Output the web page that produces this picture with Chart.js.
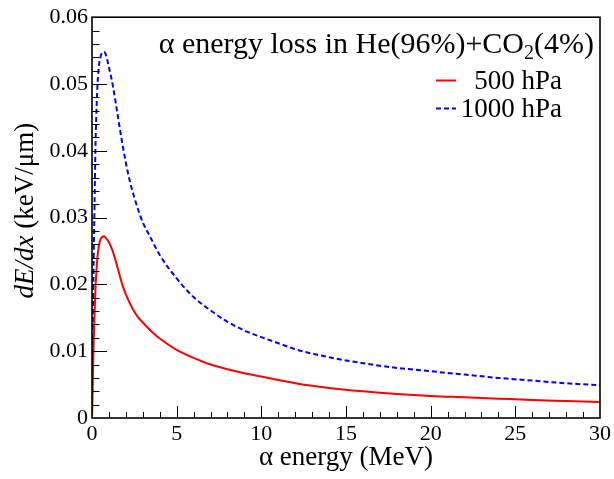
<!DOCTYPE html>
<html>
<head>
<meta charset="utf-8">
<script src="https://cdn.jsdelivr.net/npm/chart.js@4.4.1/dist/chart.umd.min.js"></script>
<style>
  html, body { margin: 0; padding: 0; background: #ffffff; }
  #wrap { width: 614px; height: 479px; }
</style>
</head>
<body>
<div id="wrap"><canvas id="c" width="614" height="479"></canvas></div>
<script>
// Alpha particle stopping power in He(96%)+CO2(4%) at two pressures
const energyMeV = [0, 0.05, 0.1, 0.15, 0.2, 0.3, 0.4, 0.5, 0.6, 0.7, 0.8, 1.0, 1.25, 1.5, 1.75, 2.0,
                   2.25, 2.5, 2.75, 3.0, 3.5, 4.0, 5.0, 6.0, 7.0, 8.0, 9.0, 10, 11, 12, 14, 16, 18, 20,
                   22, 24, 26, 28, 30];

const dEdx500 = [0, 0.0062, 0.0113, 0.0155, 0.0190, 0.0234, 0.0257, 0.0267, 0.0271, 0.0272, 0.0270, 0.0263,
                 0.0248, 0.0226, 0.0203, 0.0185, 0.0171, 0.0159, 0.0150, 0.0143, 0.0130, 0.0119, 0.0102,
                 0.0090, 0.0080, 0.0073, 0.0067, 0.0062, 0.0057, 0.0052, 0.0045, 0.0040, 0.0036, 0.0033,
                 0.0031, 0.0029, 0.0027, 0.00255, 0.0024];

const dEdx1000 = [0, 0.0130, 0.0240, 0.0320, 0.0400, 0.0485, 0.0525, 0.0540, 0.0547, 0.0548, 0.0545, 0.0525,
                  0.0495, 0.0456, 0.0417, 0.0382, 0.0353, 0.0330, 0.0310, 0.0293, 0.0268, 0.0244, 0.0209,
                  0.0181, 0.0161, 0.0144, 0.0131, 0.0121, 0.0112, 0.0103, 0.0091, 0.0082, 0.0075, 0.0070,
                  0.0065, 0.0060, 0.0056, 0.0052, 0.0049];

const seriesLabels = ['500 hPa', '1000 hPa'];
const xRange = [0, 30];
const yRange = [0, 0.06];
const xMajorStep = 5, xMinorStep = 1;
const yMajorStep = 0.01, yMinorStep = 0.002;

const SERIF = '"Liberation Serif", "DejaVu Serif", serif';

function toPoints(xs, ys) {
  return xs.map((x, i) => ({ x: x, y: ys[i] }));
}

// Inward major/minor ticks and the closed frame around the plot
const framePlugin = {
  id: 'frame',
  afterDatasetsDraw(chart) {
    const { ctx, chartArea: a, scales } = chart;
    const xs = scales.x, ys = scales.y;
    ctx.save();
    ctx.strokeStyle = '#000';
    ctx.lineWidth = 1;
    ctx.beginPath();
    const nx = Math.round((xRange[1] - xRange[0]) / xMinorStep);
    for (let i = 1; i < nx; i++) {
      const v = xRange[0] + i * xMinorStep;
      const major = Math.abs(v / xMajorStep - Math.round(v / xMajorStep)) < 1e-6;
      const px = Math.round(xs.getPixelForValue(v)) + 0.5;
      ctx.moveTo(px, a.bottom);
      ctx.lineTo(px, a.bottom - (major ? 12 : 6));
    }
    const ny = Math.round((yRange[1] - yRange[0]) / yMinorStep);
    for (let i = 1; i < ny; i++) {
      const v = yRange[0] + i * yMinorStep;
      const major = i % Math.round(yMajorStep / yMinorStep) === 0;
      const py = Math.round(ys.getPixelForValue(v)) + 0.5;
      ctx.moveTo(a.left, py);
      ctx.lineTo(a.left + (major ? 15 : 7.5), py);
    }
    ctx.stroke();
    ctx.lineWidth = 1.6;
    ctx.strokeRect(a.left, a.top, a.right - a.left, a.bottom - a.top);
    ctx.restore();
  }
};

function drawRuns(ctx, runs, x, y, align) {
  let total = 0;
  runs.forEach(r => { ctx.font = r.font; total += ctx.measureText(r.text).width; });
  let cx = align === 'right' ? x - total : (align === 'center' ? x - total / 2 : x);
  runs.forEach(r => {
    ctx.font = r.font;
    ctx.fillText(r.text, cx, y + (r.dy || 0));
    cx += ctx.measureText(r.text).width;
  });
}

// In-plot title, legend and the y-axis title (mixed italic)
const textPlugin = {
  id: 'texts',
  afterDraw(chart) {
    const { ctx, chartArea: a } = chart;
    ctx.save();
    ctx.fillStyle = '#000';
    ctx.textBaseline = 'alphabetic';
    ctx.textAlign = 'left';

    drawRuns(ctx, [
      { text: 'α energy loss in He(96%)+CO', font: '30px ' + SERIF },
      { text: '2', font: '20px ' + SERIF, dy: 6 },
      { text: '(4%)', font: '30px ' + SERIF }
    ], a.right - 6, 53, 'right');

    const rowY = [80, 108];
    chart.data.datasets.forEach((ds, i) => {
      const y = rowY[i];
      ctx.save();
      ctx.strokeStyle = ds.borderColor;
      ctx.lineWidth = 2;
      ctx.setLineDash(ds.borderDash || []);
      ctx.beginPath();
      ctx.moveTo(436, y + 0.5);
      ctx.lineTo(456, y + 0.5);
      ctx.stroke();
      ctx.restore();
      drawRuns(ctx, [{ text: ds.label, font: '27px ' + SERIF }], 562, y + 9, 'right');
    });

    ctx.translate(33, (a.top + a.bottom) / 2 - 7);
    ctx.rotate(-Math.PI / 2);
    drawRuns(ctx, [
      { text: 'dE/dx', font: 'italic 27px ' + SERIF },
      { text: ' (keV/μm)', font: '27px ' + SERIF }
    ], 0, 0, 'center');
    ctx.restore();
  }
};

new Chart(document.getElementById('c'), {
  type: 'line',
  data: {
    datasets: [
      {
        label: seriesLabels[0],
        data: toPoints(energyMeV, dEdx500),
        borderColor: '#ff0000',
        borderWidth: 2,
        pointRadius: 0,
        fill: false,
        cubicInterpolationMode: 'monotone'
      },
      {
        label: seriesLabels[1],
        data: toPoints(energyMeV, dEdx1000),
        borderColor: '#0000ff',
        borderWidth: 2,
        borderDash: [5, 3],
        pointRadius: 0,
        fill: false,
        cubicInterpolationMode: 'monotone'
      }
    ]
  },
  options: {
    responsive: false,
    devicePixelRatio: 1,
    animation: false,
    layout: { padding: { top: 17, right: 12, left: 0, bottom: 0 } },
    plugins: {
      legend: { display: false },
      tooltip: { enabled: false },
      title: { display: false }
    },
    scales: {
      x: {
        type: 'linear',
        min: xRange[0],
        max: xRange[1],
        grid: { display: false, drawTicks: false },
        border: { display: false },
        ticks: {
          stepSize: xMajorStep,
          padding: 3,
          color: '#000',
          font: { family: SERIF, size: 22 },
          maxRotation: 0,
          callback: v => String(v)
        },
        title: {
          display: true,
          text: 'α energy (MeV)',
          color: '#000',
          font: { family: SERIF, size: 27 },
          padding: { top: 0, bottom: 5 }
        },
        afterFit(scale) { scale.height = 61; }
      },
      y: {
        type: 'linear',
        min: yRange[0],
        max: yRange[1],
        grid: { display: false, drawTicks: false },
        border: { display: false },
        ticks: {
          stepSize: yMajorStep,
          padding: 4,
          color: '#000',
          font: { family: SERIF, size: 22 },
          callback: v => (Math.abs(v) < 1e-9 ? '0' : v.toFixed(2))
        },
        afterFit(scale) { scale.width = 92; }
      }
    }
  },
  plugins: [framePlugin, textPlugin]
});
</script>
</body>
</html>
